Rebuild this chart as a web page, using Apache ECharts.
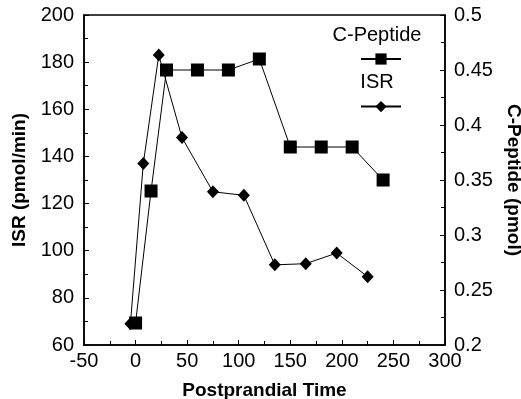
<!DOCTYPE html>
<html>
<head>
<meta charset="utf-8">
<script src="https://cdn.jsdelivr.net/npm/echarts@6/dist/echarts.min.js"></script>
<style>html,body{margin:0;padding:0;background:#fff}#c{width:521px;height:399px}</style>
</head>
<body>
<div id="c"></div>
<script>
const cpepTime = [0, 15, 30, 60, 90, 120, 150, 180, 210, 240];
const cpepValue = [0.22, 0.34, 0.45, 0.45, 0.45, 0.46, 0.38, 0.38, 0.38, 0.35];
const isrTime = [-5, 7.5, 22.5, 45, 75, 105, 135, 165, 195, 225];
const isrValue = [69, 137, 183, 148, 125, 123.5, 94, 94.5, 99, 89];
const seriesNames = ['C-Peptide', 'ISR'];
const xTitle = 'Postprandial Time';
const yLeftTitle = 'ISR (pmol/min)';
const yRightTitle = 'C-Peptide (pmol)';

const FONT = '"Liberation Sans", Arial, sans-serif';
const chart = echarts.init(document.getElementById('c'), null, {renderer: 'canvas'});
const axisCommon = {
  axisLine: {show: true, onZero: false, lineStyle: {color: '#000', width: 1.5}},
  axisTick: {show: true, inside: true, length: 5, lineStyle: {color: '#000'}},
  minorTick: {show: true, splitNumber: 2, length: 4, lineStyle: {color: '#000'}},
  splitLine: {show: false},
  axisLabel: {color: '#000', fontFamily: FONT, fontSize: 20},
  nameTextStyle: {color: '#000', fontFamily: FONT, fontSize: 19, fontWeight: 'bold'}
};
chart.setOption({
  animation: false,
  backgroundColor: '#fff',
  grid: {left: 84, right: 76, top: 15, bottom: 54, show: true, borderColor: '#000', borderWidth: 1.5,
         containLabel: false, outerBoundsMode: 'none'},
  xAxis: Object.assign({}, axisCommon, {
    type: 'value', min: -50, max: 300, interval: 50,
    name: xTitle, nameLocation: 'middle', nameGap: 36,
    axisLabel: Object.assign({}, axisCommon.axisLabel, {margin: 6})
  }),
  yAxis: [
    Object.assign({}, axisCommon, {
      type: 'value', min: 60, max: 200, interval: 20, position: 'left',
      name: yLeftTitle, nameLocation: 'middle', nameGap: 48,
      axisLabel: Object.assign({}, axisCommon.axisLabel, {margin: 10})
    }),
    Object.assign({}, axisCommon, {
      type: 'value', min: 0.2, max: 0.5, interval: 0.05, position: 'right',
      name: yRightTitle, nameLocation: 'middle', nameGap: 56, nameRotate: -90,
      axisLabel: Object.assign({}, axisCommon.axisLabel, {margin: 9,
        formatter: v => String(+v.toFixed(3))})
    })
  ],
  legend: {
    orient: 'vertical', left: 355, top: 47, itemGap: 35, itemWidth: 40, itemHeight: 14,
    formatter: () => '', data: seriesNames, selectedMode: false
  },
  graphic: [
    {type: 'text', position: [377, 35], style: {text: seriesNames[0], font: '20px ' + FONT, fill: '#000', textAlign: 'center', textVerticalAlign: 'middle'}},
    {type: 'text', position: [377, 82], style: {text: seriesNames[1], font: '20px ' + FONT, fill: '#000', textAlign: 'center', textVerticalAlign: 'middle'}}
  ],
  series: [
    {
      name: seriesNames[0], type: 'line', yAxisIndex: 1,
      data: cpepTime.map((t, i) => [t, cpepValue[i]]),
      symbol: 'rect', symbolSize: 13,
      lineStyle: {color: '#000', width: 1}, itemStyle: {color: '#000'}
    },
    {
      name: seriesNames[1], type: 'line', yAxisIndex: 0,
      data: isrTime.map((t, i) => [t, isrValue[i]]),
      symbol: 'diamond', symbolSize: [12, 13],
      lineStyle: {color: '#000', width: 1}, itemStyle: {color: '#000'}
    }
  ]
});
</script>
</body>
</html>
